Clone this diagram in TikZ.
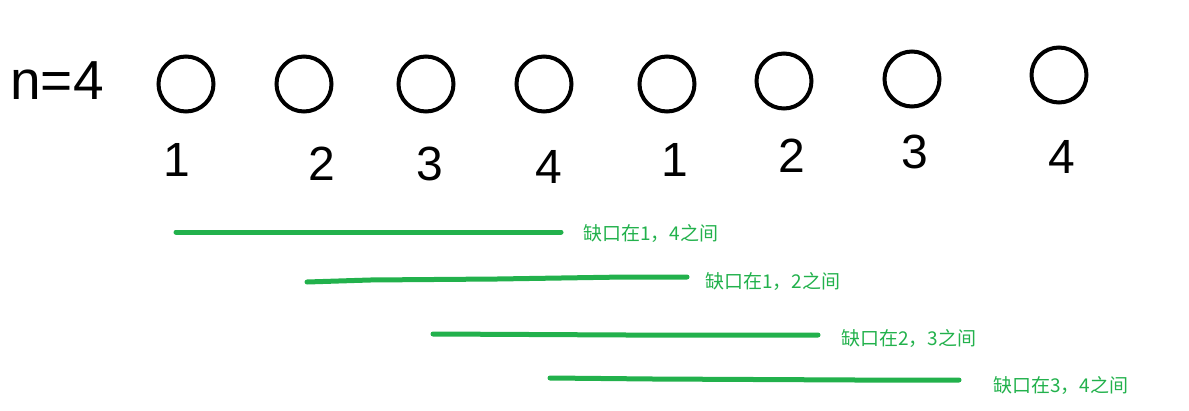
\documentclass[tikz,border=0pt]{standalone}
\usepackage{fontspec}
\setmainfont{Liberation Sans}
\newfontfamily\cjk{Noto Sans CJK SC}
\definecolor{pgreen}{HTML}{22B14C}
\begin{document}
\begin{tikzpicture}[x=1pt,y=-1pt,
  ring/.style={circle,draw=black,line width=4pt,minimum size=55pt,inner sep=0pt},
  digit/.style={font=\fontsize{48}{48}\selectfont,inner sep=0pt,text=black},
  gline/.style={draw=pgreen,line width=5pt,line cap=round,line join=round},
  glabel/.style={font=\cjk\fontsize{19}{19}\selectfont,text=pgreen,anchor=west,inner sep=0pt}]
\useasboundingbox (0,0) rectangle (1189,410);
\node[font=\fontsize{55}{55}\selectfont,inner sep=0pt] (n) at (57,81) {n=4};
\foreach \i/\x/\y in {1/186/84,2/304/84,3/426/84,4/544/84,5/667/84,6/784/81,7/912/79,8/1059/75}
  \node[ring] (c\i) at (\x,\y) {};
\foreach \i/\x/\y/\t in {1/177/160/1,2/322/164/2,3/430/164/3,4/549/167/4,5/675/160/1,6/792/156/2,7/915/152/3,8/1062/157/4}
  \node[digit] (d\i) at (\x,\y) {\t};
\coordinate (a1) at (176,232); \coordinate (b1) at (561,232);
\draw[gline] (a1) -- (b1);
\node[glabel] (l1) at (583,233) {缺口在1，4之间};
\coordinate (a2) at (307,282); \coordinate (b2) at (687,277);
\draw[gline] (a2) -- (370,280) -- (497,279) -- (625,277) -- (b2);
\node[glabel] (l2) at (705,281) {缺口在1，2之间};
\coordinate (a3) at (433,334); \coordinate (b3) at (818,335);
\draw[gline] (a3) -- (627,335) -- (b3);
\node[glabel] (l3) at (841,338) {缺口在2，3之间};
\coordinate (a4) at (550,378); \coordinate (b4) at (959,380);
\draw[gline] (a4) -- (653,379) -- (856,380) -- (b4);
\node[glabel] (l4) at (993,385) {缺口在3，4之间};
\end{tikzpicture}
\end{document}
